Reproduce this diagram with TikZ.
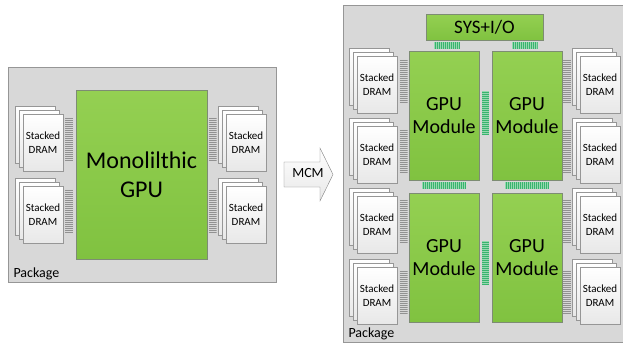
\documentclass[tikz,border=0pt]{standalone}
\usepackage{fontspec}
\setmainfont{Carlito}
\usetikzlibrary{positioning}

\begin{document}
\begin{tikzpicture}[
            x=1pt,y=-1pt,
            pkg/.style={draw=pkgline,fill=pkgfill,inner sep=0pt},
            gpu/.style={draw=gpuline,top color=gpuhi,bottom color=gpulo,inner sep=0pt,align=center},
            sheet/.style={draw=sheetline,top color=white,bottom color=sheetlo,minimum width=40pt,minimum height=57pt,inner sep=0pt,align=center,font=\fontsize{11}{14}\selectfont},
            hbus/.style={fill=#1bg,inner sep=0pt,minimum width=8pt,minimum height=44pt,
                path picture={\foreach \k in {1,...,30}
                    \draw[#1,line width=0.7pt] ([yshift=-2*\k pt+0.5pt]path picture bounding box.north west) -- ([yshift=-2*\k pt+0.5pt]path picture bounding box.north east);}},
            vbus/.style={fill=#1bg,inner sep=0pt,minimum height=7pt,
                path picture={\foreach \k in {1,...,30}
                    \draw[#1,line width=0.7pt] ([xshift=2*\k pt-0.5pt]path picture bounding box.north west) -- ([xshift=2*\k pt-0.5pt]path picture bounding box.south west);}},
            arrowbox/.style={draw=arrowline,top color=white,bottom color=sheetlo}
        ]
            \definecolor{pkgfill}{RGB}{216,216,216}
            \definecolor{pkgline}{RGB}{150,150,150}
            \definecolor{gpuhi}{RGB}{148,208,82}
            \definecolor{gpulo}{RGB}{128,194,64}
            \definecolor{gpuline}{RGB}{125,140,115}
            \definecolor{sheetline}{RGB}{150,150,150}
            \definecolor{sheetlo}{RGB}{232,232,232}
            \definecolor{arrowline}{RGB}{130,130,130}
            \definecolor{bgray}{RGB}{145,145,145}
            \definecolor{bgraybg}{RGB}{215,215,215}
            \definecolor{bgreen}{RGB}{55,180,110}
            \definecolor{bgreenbg}{RGB}{150,215,175}

            \useasboundingbox (0,0) rectangle (623,343);

            % monolithic package
            \node (pkgA) [pkg,minimum width=268pt,minimum height=215pt] at (142,174.5) {};
            \node (mono) [gpu,minimum width=131pt,minimum height=169pt,font=\fontsize{24}{29}\selectfont] at (141.5,174.5) {Monolilthic\\GPU};
            \foreach \n/\x/\y/\bx in {sA1/43/142.5/69, sA2/43/215/69, sA3/246/142.5/212.5, sA4/246/215/212.5} {
                \node (\n c) [sheet] at (\x-8,\y-8) {};
                \node (\n b) [sheet] at (\x-4,\y-4) {};
                \node (\n a) [sheet] at (\x,\y)     {Stacked\\DRAM};
                \node (\n bus) [hbus=bgray] at (\bx,\y-4) {};
            }
            \node (pkgAlab) [anchor=base west,font=\fontsize{14}{16}\selectfont] at (10,277) {Package};

            % arrow
            \draw [arrowbox] (284,162) -- (320,162) -- (320,148) -- (333,174.5) -- (320,201) -- (320,187) -- (284,187) -- cycle;
            \node (mcm) [font=\fontsize{14}{16}\selectfont] at (308,173) {MCM};

            % multi-chip-module package
            \node (pkgB) [pkg,minimum width=280pt,minimum height=337pt] at (483,173.5) {};
            \node (sysio) [gpu,minimum width=117pt,minimum height=26pt,font=\fontsize{19}{23}\selectfont] at (484.5,27) {SYS+I/O};
            \foreach \n/\x/\y in {gm1/444/115.5, gm2/527/115.5, gm3/444/257.5, gm4/527/257.5}
                \node (\n) [gpu,minimum width=70pt,minimum height=129pt,font=\fontsize{20}{23}\selectfont] at (\x,\y) {GPU\\Module};
            \foreach \n/\x/\y/\bx in {sB1/377/84.5/403.5, sB2/377/154.5/403.5, sB3/377/224.5/403.5, sB4/377/295.5/403.5,
                                      sB5/600/84.5/567, sB6/600/154.5/567, sB7/600/224.5/567, sB8/600/295.5/567} {
                \node (\n c) [sheet] at (\x-8,\y-8) {};
                \node (\n b) [sheet] at (\x-4,\y-4) {};
                \node (\n a) [sheet] at (\x,\y)     {Stacked\\DRAM};
                \node (\n bus) [hbus=bgray] at (\bx,\y-4) {};
            }
            \node (busS1) [vbus=bgreen,minimum width=26pt] at (447,45.5)   {};
            \node (busS2) [vbus=bgreen,minimum width=26pt] at (524.5,45.5) {};
            \node (busR1) [vbus=bgreen,minimum width=44pt] at (444,185.5)  {};
            \node (busR2) [vbus=bgreen,minimum width=44pt] at (527,185.5)  {};
            \node (busC1) [hbus=bgreen,minimum width=7pt]  at (485.5,112.5) {};
            \node (busC2) [hbus=bgreen,minimum width=7pt]  at (485.5,263)   {};
            \node (pkgBlab) [anchor=base west,font=\fontsize{14}{16}\selectfont] at (345,337) {Package};
        \end{tikzpicture}
\end{document}
